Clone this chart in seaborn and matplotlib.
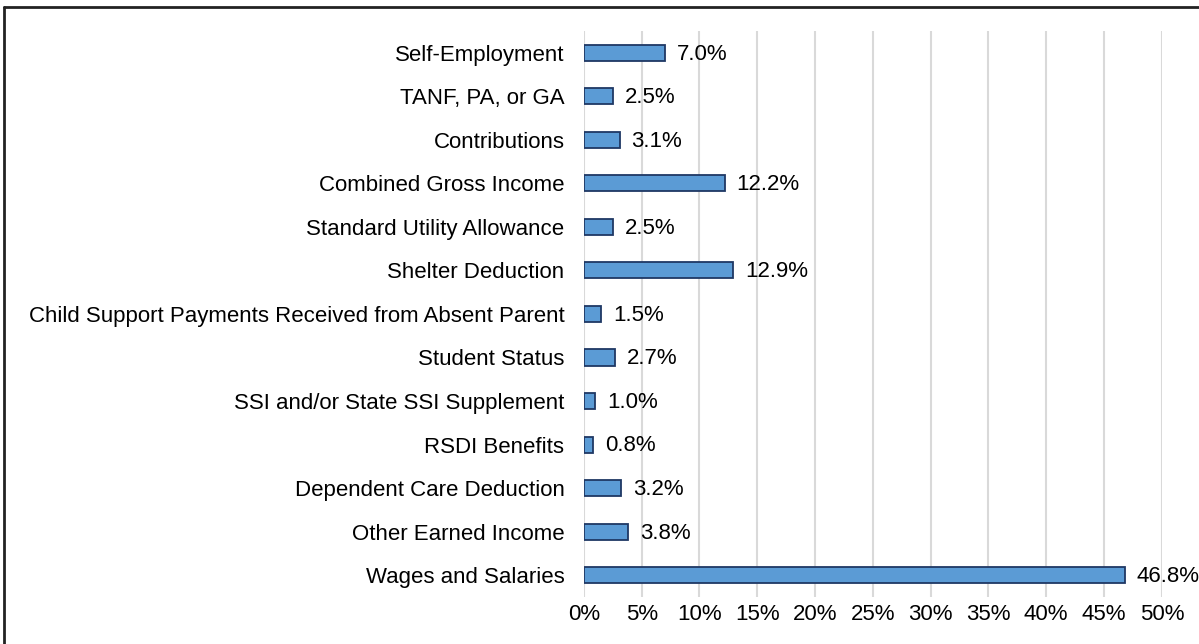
import pandas as pd
import seaborn as sns
import matplotlib.pyplot as plt
from matplotlib.lines import Line2D
from matplotlib.ticker import PercentFormatter

categories = [
    "Self-Employment",
    "TANF, PA, or GA",
    "Contributions",
    "Combined Gross Income",
    "Standard Utility Allowance",
    "Shelter Deduction",
    "Child Support Payments Received from Absent Parent",
    "Student Status",
    "SSI and/or State SSI Supplement",
    "RSDI Benefits",
    "Dependent Care Deduction",
    "Other Earned Income",
    "Wages and Salaries",
]
shares = [7.0, 2.5, 3.1, 12.2, 2.5, 12.9, 1.5, 2.7, 1.0, 0.8, 3.2, 3.8, 46.8]
x_ticks = [0, 5, 10, 15, 20, 25, 30, 35, 40, 45, 50]

df = pd.DataFrame({"Category": categories, "Share": shares})

sns.set_style("white")
plt.rcParams["font.family"] = ["Liberation Sans", "DejaVu Sans"]

fig = plt.figure(figsize=(11.99, 6.44), dpi=100)
ax = fig.add_axes([0.487, 0.073, 0.482, 0.879])

sns.barplot(data=df, y="Category", x="Share", orient="h", order=categories,
            color="#5B9BD5", edgecolor="#1F3864", linewidth=1.3,
            width=0.37, saturation=1, ax=ax)

# value labels
for i, v in enumerate(shares):
    ax.annotate(f"{v:.1f}%", (v, i), xytext=(8.5, -1), textcoords="offset points",
                va="center", ha="left", fontsize=16, color="black",
                annotation_clip=False)

ax.set_xlim(0, 50)
ax.set_xticks(x_ticks)
ax.xaxis.set_major_formatter(PercentFormatter(decimals=0))
ax.grid(axis="x", color="#D9D9D9", linewidth=1.5)
ax.set_axisbelow(True)
ax.tick_params(axis="both", length=0, labelsize=16, colors="black")
ax.tick_params(axis="y", pad=14)
ax.tick_params(axis="x", pad=5)
ax.set_xlabel("")
ax.set_ylabel("")
sns.despine(ax=ax, left=True, bottom=True)

# outer frame (only top and left edges visible in the image)
fx = 3.5 / 1199
fy = 1 - 7 / 644
fig.lines.append(Line2D([fx, fx], [0, fy], transform=fig.transFigure,
                        color="#222222", linewidth=2))
fig.lines.append(Line2D([fx, 1], [fy, fy], transform=fig.transFigure,
                        color="#222222", linewidth=2))

fig.savefig("out.png", dpi=100)
